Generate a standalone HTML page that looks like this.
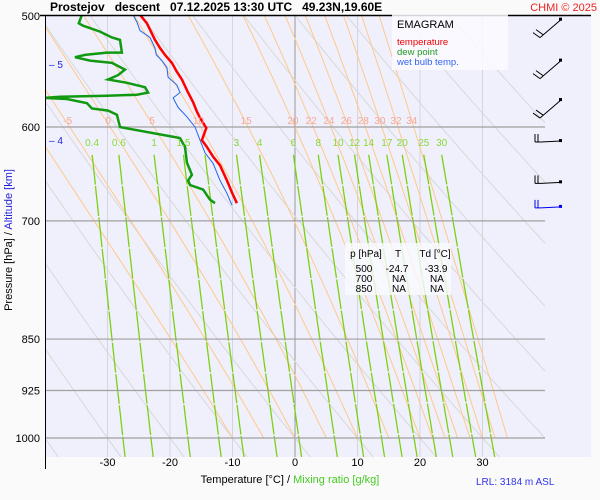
<!DOCTYPE html>
<html><head><meta charset="utf-8"><style>
body{margin:0;background:#fafafa;}
svg{display:block;font-family:"Liberation Sans",Arial,sans-serif;}
</style></head><body>
<svg id="c" width="600" height="500" viewBox="0 0 600 500">
<defs><clipPath id="pc"><rect x="46" y="16" width="499" height="441"/></clipPath>
<clipPath id="pc2"><rect x="46" y="16" width="545" height="441"/></clipPath></defs>
<rect x="46" y="16" width="545" height="441" fill="#f0f0fc"/>
<g id="grid" clip-path="url(#pc)"></g>
<g id="prof" clip-path="url(#pc2)"></g>
<g id="labels"></g>
<line x1="40" y1="15.5" x2="591" y2="15.5" stroke="#000" stroke-width="1.5"/>
<line x1="45.5" y1="15" x2="45.5" y2="469" stroke="#000"/>
<text x="50" y="11" font-size="12" font-weight="bold" xml:space="preserve">Prostejov   descent   07.12.2025 13:30 UTC   49.23N,19.60E</text>
<text x="597" y="11" font-size="11" fill="#ee2222" text-anchor="end">CHMI © 2025</text>
<text transform="translate(12,240) rotate(-90)" font-size="11" text-anchor="middle">Pressure [hPa]  /  <tspan fill="#2222dd">Altitude [km]</tspan></text>
<text x="290" y="483" font-size="11" text-anchor="middle">Temperature [°C]  /  <tspan fill="#44cc22">Mixing ratio [g/kg]</tspan></text>
<text x="476" y="485" font-size="10" fill="#3333ee">LRL: 3184 m ASL</text>
<g>
<rect x="392" y="14" width="116" height="56" fill="#fafaff" opacity="0.85"/>
<text x="397" y="28" font-size="11">EMAGRAM</text>
<text x="397" y="45" font-size="9.5" fill="#ee0000">temperature</text>
<text x="397" y="55" font-size="9.5" fill="#229922">dew point</text>
<text x="397" y="65" font-size="9.5" fill="#3366ee">wet bulb temp.</text>
</g>
<g font-size="10" text-anchor="middle">
<rect x="345" y="243" width="106" height="52" fill="#fafaff" opacity="0.8"/>
<text x="366" y="257">p [hPa]</text><text x="398" y="257">T</text><text x="435" y="257">Td [°C]</text>
<text x="364" y="272">500</text><text x="397" y="272">-24.7</text><text x="436" y="272">-33.9</text>
<text x="364" y="282">700</text><text x="399" y="282">NA</text><text x="437" y="282">NA</text>
<text x="364" y="292">850</text><text x="399" y="292">NA</text><text x="437" y="292">NA</text>
</g>
<g id="barbs"></g>
</svg>
<script>
// ---- data ----
const tempTicks=[-30,-20,-10,0,10,20,30];
const pressLevels=[600,700,850,925,1000];
const pressLabels=[500,600,700,850,925,1000];
const altLabels=[5,4];
const altPress=[541,613];
const thetaW=[-10,-5,0,5,10,15,20,22,24,26,28,30,32,34];
const thetaWLabels=[-5,0,5,10,15,20,22,24,26,28,30,32,34];
const mixRatios=[0.4,0.6,1,1.5,2,3,4,6,8,10,12,14,17,20,25,30];
const mixLabels=[0.4,0.6,1,1.5,3,4,6,8,10,12,14,17,20,25,30];
const dryTheta=[-50,-40,-30,-20,-10,0,10,20,30,40,50,60,70,80,90];
const tP=[499,506,520,527,533,540,548,555,567,576,585,591,601,613,620,630,639,655,668,680];
const tT=[-24.8,-23.7,-22.4,-21.6,-20.8,-19.7,-18.9,-18.1,-17.1,-16.3,-15.7,-15.2,-14.2,-14.9,-14.1,-13.1,-12.0,-10.9,-10.1,-9.3];
const wP=[499,505,512,518,527,533,538,544,553,560,567,572,581,590,600,613,626,637,655,669,682];
const wT=[-25.9,-25.3,-24.8,-23.2,-22.4,-22.2,-21.3,-20.5,-20.3,-18.9,-18.4,-19.5,-18.7,-17.3,-16.0,-15.2,-14.4,-13.1,-12.0,-10.9,-10.1];
const dP=[499,506,508,513,518,520,531,531,533,535,538,540,546,551,555,558,562,567,569,570,571,572,573,577,582,584,588,600,601,610,611,620,636,649,655,660,665,673,676,680];
const dT=[-34.1,-34.6,-33.9,-31.2,-29.3,-28.0,-27.7,-30.1,-33.6,-35.2,-32.8,-29.3,-27.2,-28.3,-29.9,-26.9,-24.0,-23.5,-25.3,-30.1,-37.6,-41,-36.5,-33.3,-32.5,-29.9,-28.5,-28.0,-27.2,-19.2,-18.4,-17.6,-17.3,-16.5,-17.1,-16.8,-14.7,-13.9,-13.6,-12.8];
const barbP=[503,538,574,613,656,683];
// ---- axes ----
const X=t=>295+6.25*t;
const Y=p=>438-608.8*Math.log(1000/p);
const NS="http://www.w3.org/2000/svg";
function mk(parent,tag,attrs){const e=document.createElementNS(NS,tag);for(const k in attrs)e.setAttribute(k,attrs[k]);document.getElementById(parent).appendChild(e);return e;}
function pathFrom(ts,ps){return ts.map((t,i)=>(i?'L':'M')+X(t).toFixed(1)+','+Y(ps[i]).toFixed(1)).join(' ');}
const es=t=>6.112*Math.exp(17.67*t/(t+243.5));
// isotherms
tempTicks.forEach(t=>{
 const l=mk('grid','line',{x1:X(t),x2:X(t),y1:16,y2:457,stroke:t===0?'#999':'#d4d4dc','stroke-width':1});
 
 
 const tx=mk('labels','text',{x:X(t),y:466,'font-size':11,'text-anchor':'middle'});tx.textContent=t;
 
 
});
// dry adiabats
dryTheta.forEach(th=>{
 const ps=[],ts=[];for(let p=1070;p>=490;p-=10){ps.push(p);ts.push((th+273.15)*Math.pow(p/1000,0.286)-273.15);}
 const e=mk('grid','path',{d:pathFrom(ts,ps),fill:'none',stroke:'#d8d8d8','stroke-width':1});
 
 
});
// pseudoadiabats
function moist(tw){const ps=[],ts=[];let T=tw+273.15;
 for(let p=1000;p>=495;p-=5){ps.push(p);ts.push(T-273.15);
  const e=es(T-273.15),rs=0.622*e/(p-e);const Rd=287,cp=1005,L=2.5e6;
  const dTdp=(Rd*T+L*rs)/(p*(cp+L*L*rs*0.622/(Rd*T*T)));T-=dTdp*5;}
 return [ts,ps];}
thetaW.forEach(tw=>{const [ts,ps]=moist(tw);
 const e=mk('grid','path',{d:pathFrom(ts,ps),fill:'none',stroke:'#ffc88a','stroke-width':1});
 
 
 if(thetaWLabels.includes(tw)){const t6=ts[ps.indexOf(600)];
  const tx=mk('labels','text',{x:X(t6)-2,y:124,'font-size':10,'text-anchor':'middle',fill:'#f5a898'});tx.textContent=tw;
  
  }
});
// mixing ratio lines
const tdOf=(w,p)=>{const e=w*p/(622+w);const l=Math.log(e/6.112);return 243.5*l/(17.67-l);};
mixRatios.forEach(w=>{const ps=[],ts=[];for(let p=628;p<=1060;p+=8){ps.push(p);ts.push(tdOf(w,p));}
 const e=mk('grid','path',{d:pathFrom(ts,ps),fill:'none',stroke:'#7cd010','stroke-width':1.3,'stroke-dasharray':'30 1.5'});
 
 
 if(mixLabels.includes(w)){const tx=mk('labels','text',{x:X(tdOf(w,628)),y:146,'font-size':10,'text-anchor':'middle',fill:'#8ad838'});tx.textContent=w;
  
  }
});
// pressure lines
pressLevels.forEach(p=>{const l=mk('grid','line',{x1:46,x2:545,y1:Y(p),y2:Y(p),stroke:'#a0a0a0','stroke-width':1.2});
 
 });
pressLabels.forEach(p=>{const tx=mk('labels','text',{x:40,y:Y(p)+4,'font-size':11,'text-anchor':'end'});tx.textContent=p;
 
 });
altLabels.forEach((a,i)=>{const tx=mk('labels','text',{x:49,y:Y(altPress[i])+4,'font-size':10,fill:'#2222dd'});tx.textContent='– '+a;
 
 });
// profiles
let e;
e=mk('prof','path',{d:pathFrom(dT.map(v=>Math.max(v,-40.2)),dP),fill:'none',stroke:'#119911','stroke-width':2.5});


e=mk('prof','path',{d:pathFrom(wT,wP),fill:'none',stroke:'#2266ee','stroke-width':1});


e=mk('prof','path',{d:pathFrom(tT,tP),fill:'none',stroke:'#ff0000','stroke-width':2.5});


// wind barbs
barbP.forEach((p,i)=>{const y=Y(p);const col=i===5?'#0000ee':'#000';let d;
 if(i<3) d=`M561,${y} L540,${y+18} M540,${y+18} L533,${y+13} M543,${y+15} L536,${y+10}`;
 else d=`M561,${y+1} L541,${y+2} L535,${y+2} M535,${y+2} L535,${y-6} M538,${y+2} L538,${y-6}`;
 const g=mk('barbs','path',{d:d,fill:'none',stroke:col,'stroke-width':1});
 
 
 const r=mk('barbs','rect',{x:559,y:(i<3?y-2:y-1),width:3,height:3,fill:col});
 
 
});
</script>
</body></html>
